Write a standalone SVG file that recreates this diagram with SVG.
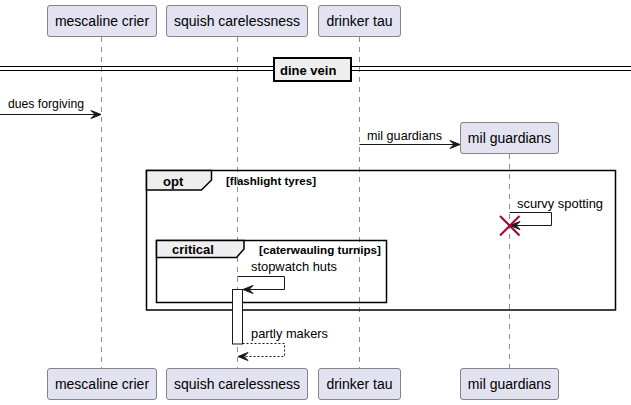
<svg xmlns="http://www.w3.org/2000/svg" width="631" height="405" viewBox="0 0 631 405">
<defs>
<style>
.pbox{fill:#E2E2F0;stroke:#181818;stroke-width:0.5}
.pt{font-family:"Liberation Sans",Arial,sans-serif;font-size:14px;fill:#000;text-anchor:middle}
.life{stroke:#181818;stroke-width:0.5;stroke-dasharray:5,5;fill:none}
.msg{stroke:#181818;stroke-width:1;fill:none}
.dash{stroke-dasharray:2,2}
.mt{font-family:"Liberation Sans",Arial,sans-serif;font-size:13px;fill:#000}
.bt{font-family:"Liberation Sans",Arial,sans-serif;font-size:13px;font-weight:bold;fill:#000}
.gt{font-family:"Liberation Sans",Arial,sans-serif;font-size:11.5px;font-weight:bold;fill:#000}
.frame{fill:none;stroke:#000;stroke-width:1.5}
.tab{fill:#EEEEEE;stroke:#000;stroke-width:1.5}
.ah{fill:#181818;stroke:#181818;stroke-width:1}
</style>
</defs>
<g id="lifelines">
<line class="life" x1="101.5" y1="37" x2="101.5" y2="368"/>
<line class="life" x1="237.5" y1="37" x2="237.5" y2="368"/>
<line class="life" x1="359.5" y1="37" x2="359.5" y2="368"/>
<line class="life" x1="509.5" y1="154" x2="509.5" y2="368"/>
</g>
<g id="p-mescaline">
<rect class="pbox" x="47.5" y="5.5" width="109" height="31" rx="2.5"/>
<text class="pt" x="102" y="26">mescaline crier</text>
<rect class="pbox" x="47.5" y="368.5" width="109" height="31" rx="2.5"/>
<text class="pt" x="102" y="389">mescaline crier</text>
</g>
<g id="p-squish">
<rect class="pbox" x="166.5" y="5.5" width="141" height="31" rx="2.5"/>
<text class="pt" x="237" y="26">squish carelessness</text>
<rect class="pbox" x="166.5" y="368.5" width="141" height="31" rx="2.5"/>
<text class="pt" x="237" y="389">squish carelessness</text>
</g>
<g id="p-drinker">
<rect class="pbox" x="318.5" y="5.5" width="82" height="31" rx="2.5"/>
<text class="pt" x="359.5" y="26">drinker tau</text>
<rect class="pbox" x="318.5" y="368.5" width="82" height="31" rx="2.5"/>
<text class="pt" x="359.5" y="389">drinker tau</text>
</g>
<g id="p-mil">
<rect class="pbox" x="460.5" y="122.5" width="98" height="31" rx="2.5"/>
<text class="pt" x="509.5" y="143">mil guardians</text>
<rect class="pbox" x="460.5" y="368.5" width="98" height="31" rx="2.5"/>
<text class="pt" x="509.5" y="389">mil guardians</text>
</g>
<g id="divider">
<line x1="0" y1="66.5" x2="631" y2="66.5" stroke="#000" stroke-width="1"/>
<line x1="0" y1="70.5" x2="631" y2="70.5" stroke="#000" stroke-width="1"/>
<rect x="274" y="58" width="77" height="23" fill="#EEEEEE" stroke="#000" stroke-width="2"/>
<text class="bt" x="280" y="74.5">dine vein</text>
</g>
<g id="frame-opt">
<rect class="frame" x="146.5" y="170.5" width="469" height="139.5"/>
<polygon class="tab" points="146.5,170.5 211.5,170.5 211.5,180 201.5,190 146.5,190"/>
<text class="bt" x="163" y="185.5">opt</text>
<text class="gt" x="226" y="185" textLength="90" lengthAdjust="spacingAndGlyphs">[flashlight tyres]</text>
</g>
<g id="frame-critical">
<rect class="frame" x="156.5" y="240.5" width="230" height="62"/>
<polygon class="tab" points="156.5,240.5 244,240.5 244,249 236.5,257.5 156.5,257.5"/>
<text class="bt" x="172" y="254">critical</text>
<text class="gt" x="259" y="254" textLength="122" lengthAdjust="spacingAndGlyphs">[caterwauling turnips]</text>
</g>
<g id="activation">
<rect x="232.5" y="289.5" width="10" height="54.5" fill="#FFFFFF" stroke="#181818" stroke-width="1"/>
</g>
<g id="connectors">
<line class="msg" x1="0" y1="114.5" x2="100" y2="114.5"/>
<polygon class="ah" points="101,114.5 91,110.5 95,114.5 91,118.5"/>
<text class="mt" x="8" y="108" textLength="76" lengthAdjust="spacingAndGlyphs">dues forgiving</text>

<line class="msg" x1="359.5" y1="144.5" x2="459" y2="144.5"/>
<polygon class="ah" points="460,144.5 450,140.5 454,144.5 450,148.5"/>
<text class="mt" x="367" y="140" textLength="75" lengthAdjust="spacingAndGlyphs">mil guardians</text>

<polyline class="msg" points="509.5,212.5 551.5,212.5 551.5,225.5 511,225.5"/>
<polygon class="ah" points="510,225.5 520,221.5 516,225.5 520,229.5"/>
<text class="mt" x="517" y="208" textLength="86" lengthAdjust="spacingAndGlyphs">scurvy spotting</text>
<path d="M500,216 L519.5,235.5 M519.5,216 L500,235.5" stroke="#A80036" stroke-width="2" fill="none"/>

<polyline class="msg" points="237.5,276.5 284.5,276.5 284.5,289.5 244,289.5"/>
<polygon class="ah" points="243,289.5 253,285.5 249,289.5 253,293.5"/>
<text class="mt" x="251" y="271" textLength="86" lengthAdjust="spacingAndGlyphs">stopwatch huts</text>

<polyline class="msg dash" points="242.5,343.5 284.5,343.5 284.5,356.5 239,356.5"/>
<polygon class="ah" points="238,356.5 248,352.5 244,356.5 248,360.5"/>
<text class="mt" x="251" y="338" textLength="77" lengthAdjust="spacingAndGlyphs">partly makers</text>
</g>
</svg>
